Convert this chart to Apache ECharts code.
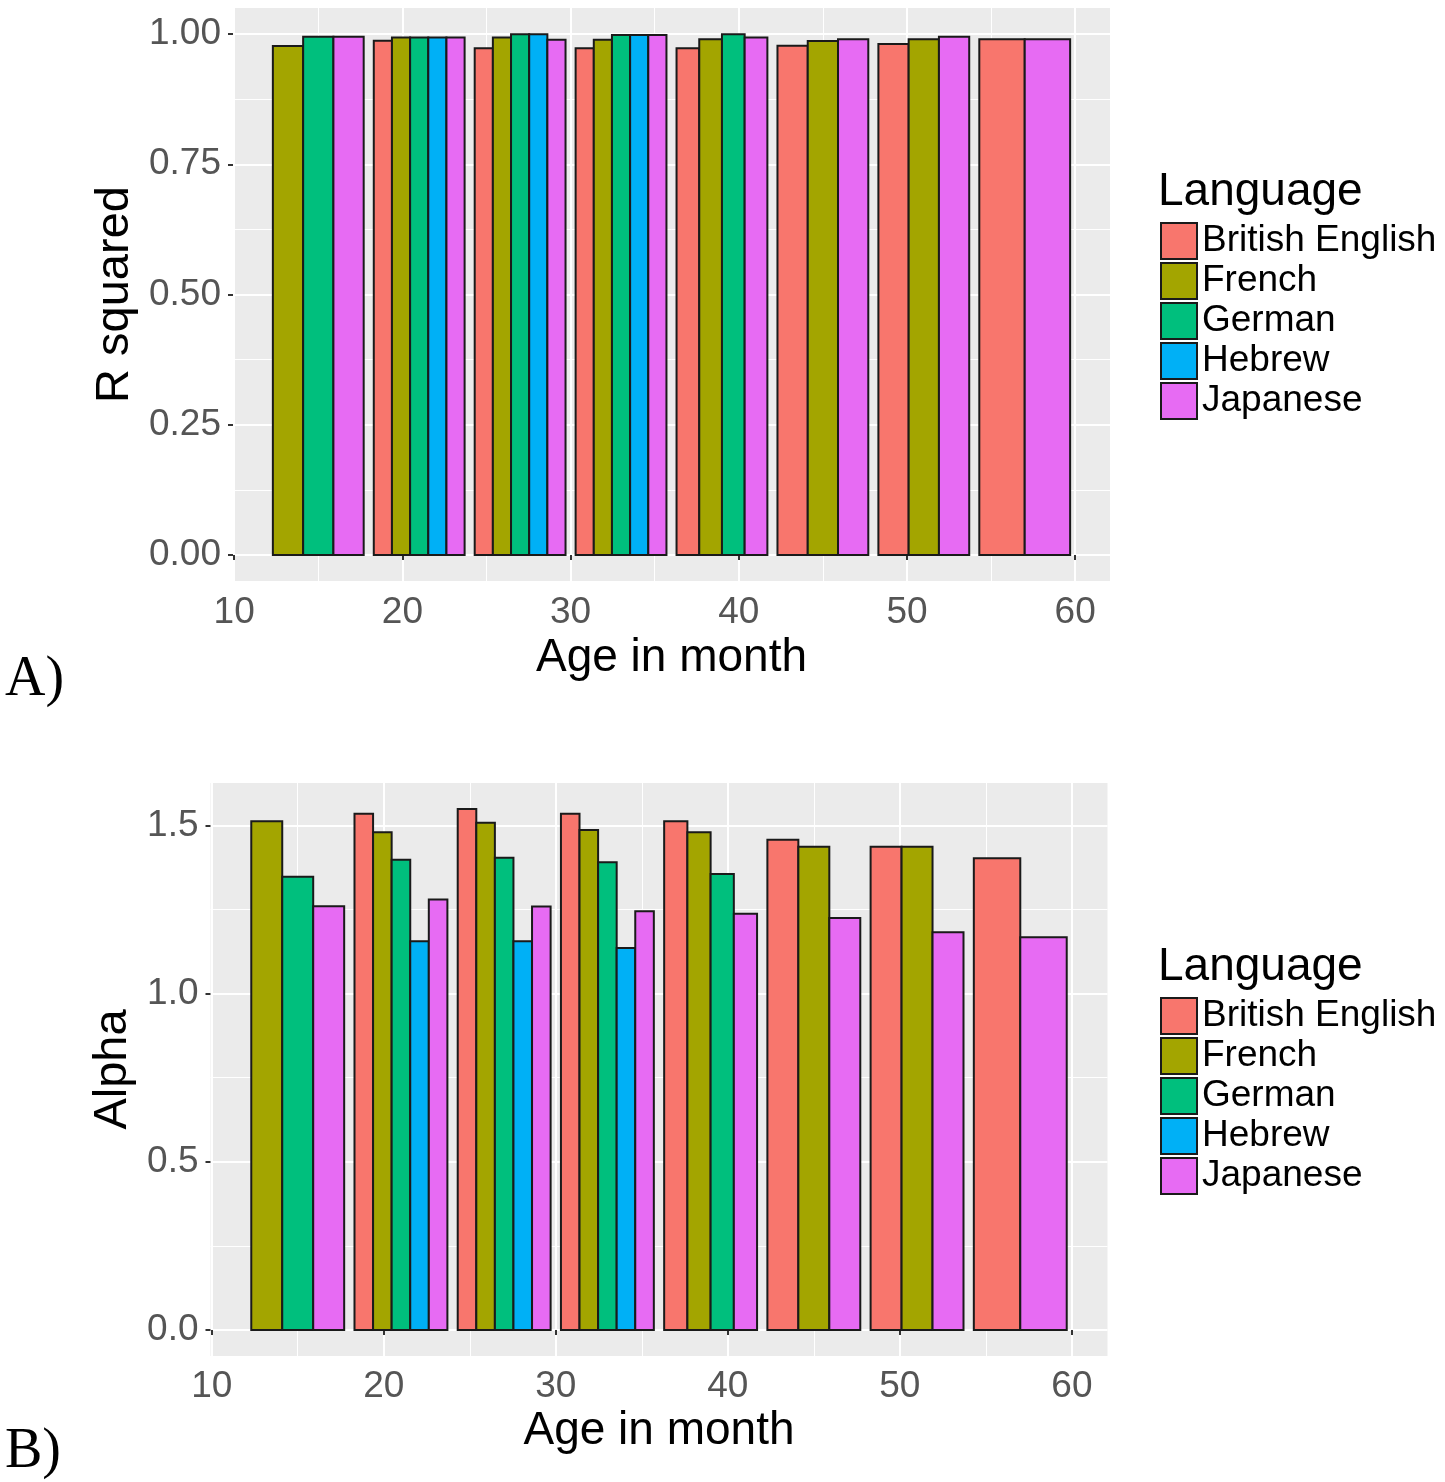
<!DOCTYPE html>
<html><head><meta charset="utf-8">
<script src="https://cdn.jsdelivr.net/npm/echarts@6/dist/echarts.min.js"></script>
<style>html,body{margin:0;padding:0;background:#fff}#chart{width:1445px;height:1482px}</style>
</head><body><div id="chart"></div>
<script>
// ---- data ----
const languages = ['British English', 'French', 'German', 'Hebrew', 'Japanese'];
const colors = ['#F8766D', '#A3A500', '#00BF7D', '#00B0F6', '#E76BF3'];
const ages = [15, 21, 27, 33, 39, 45, 51, 57];

// Panel A: R squared
const rsqBritish  = [null, 0.987, 0.9725, 0.9725, 0.9725, 0.9776, 0.981, 0.990];
const rsqFrench   = [0.977, 0.9935, 0.9935, 0.989, 0.990, 0.9866, 0.990, null];
const rsqGerman   = [0.995, 0.9935, 0.9995, 0.998, 0.9995, null, null, null];
const rsqHebrew   = [null, 0.9935, 0.9995, 0.998, null, null, null, null];
const rsqJapanese = [0.995, 0.9935, 0.989, 0.998, 0.9935, 0.990, 0.995, 0.990];

// Panel B: Alpha
const alphaBritish  = [null, 1.535, 1.549, 1.535, 1.513, 1.458, 1.437, 1.403];
const alphaFrench   = [1.513, 1.480, 1.508, 1.487, 1.480, 1.437, 1.437, null];
const alphaGerman   = [1.348, 1.398, 1.404, 1.391, 1.356, null, null, null];
const alphaHebrew   = [null, 1.156, 1.156, 1.136, null, null, null, null];
const alphaJapanese = [1.260, 1.280, 1.259, 1.245, 1.238, 1.225, 1.183, 1.168];

// tick labels
const xTicks = [10, 20, 30, 40, 50, 60];
const xMinor = [15, 25, 35, 45, 55];
const yTicksA = [0, 0.25, 0.5, 0.75, 1];
const yMinorA = [0.125, 0.375, 0.625, 0.875];
const yTicksB = [0, 0.5, 1, 1.5];
const yMinorB = [0.25, 0.75, 1.25];

const GROUP_W = 5.4; // dodge width (0.9 * 6 months)
const FONT = '"Liberation Sans", Arial, sans-serif';
const TICK_COLOR = '#555555';

const panelA = [rsqBritish, rsqFrench, rsqGerman, rsqHebrew, rsqJapanese];
const panelB = [alphaBritish, alphaFrench, alphaGerman, alphaHebrew, alphaJapanese];

function buildSeries(panel, gi) {
  return languages.map((name, li) => {
    const data = [];
    ages.forEach((a, i) => {
      const v = panel[li][i];
      if (v == null) return;
      const present = panel.map(s => s[i] != null);
      const n = present.filter(Boolean).length;
      const idx = present.slice(0, li).filter(Boolean).length;
      data.push([a, v, idx, n]);
    });
    return {
      type: 'custom', name, xAxisIndex: gi * 2, yAxisIndex: gi * 2,
      itemStyle: { color: colors[li] },
      encode: { x: 0, y: 1 },
      data,
      renderItem: function (params, api) {
        const age = api.value(0), val = api.value(1), idx = api.value(2), n = api.value(3);
        const w = GROUP_W / n;
        const x0 = age - GROUP_W / 2 + idx * w;
        const p0 = api.coord([x0, val]);
        const p1 = api.coord([x0 + w, 0]);
        return {
          type: 'rect',
          shape: { x: p0[0], y: p0[1], width: p1[0] - p0[0], height: p1[1] - p0[1] },
          style: { fill: api.visual('color'), stroke: '#1a1a1a', lineWidth: 2 }
        };
      }
    };
  });
}

function majorX(gi, name, nameGap, margin) {
  return {
    type: 'value', gridIndex: gi, min: 9.93, max: 62.07, position: 'bottom',
    name, nameLocation: 'middle', nameGap,
    nameTextStyle: { fontSize: 46, color: '#000', fontFamily: FONT },
    axisLine: { show: false },
    axisTick: { show: true, customValues: xTicks, length: 5, lineStyle: { color: '#333', width: 2 } },
    axisLabel: { customValues: xTicks, fontSize: 37, color: TICK_COLOR, fontFamily: FONT, margin },
    splitLine: { show: true, lineStyle: { color: '#fff', width: 2 } }
  };
}
function minorX(gi) {
  return {
    type: 'value', gridIndex: gi, min: 9.93, max: 62.07, position: 'top',
    axisLine: { show: false },
    axisTick: { show: false, customValues: xMinor },
    axisLabel: { show: false, customValues: xMinor },
    splitLine: { show: true, lineStyle: { color: '#fff', width: 1 } }
  };
}
function majorY(gi, min, max, ticks, name, nameGap, fmt) {
  return {
    type: 'value', gridIndex: gi, min, max, position: 'left',
    name, nameLocation: 'middle', nameGap, nameRotate: 90,
    nameTextStyle: { fontSize: 47, color: '#000', fontFamily: FONT },
    axisLine: { show: false },
    axisTick: { show: true, customValues: ticks, length: 5, lineStyle: { color: '#333', width: 2 } },
    axisLabel: { customValues: ticks, fontSize: 37, color: TICK_COLOR, fontFamily: FONT, margin: 12,
      formatter: v => v.toFixed(fmt) },
    splitLine: { show: true, lineStyle: { color: '#fff', width: 2 } }
  };
}
function minorY(gi, min, max, ticks) {
  return {
    type: 'value', gridIndex: gi, min, max, position: 'right',
    axisLine: { show: false },
    axisTick: { show: false, customValues: ticks },
    axisLabel: { show: false, customValues: ticks },
    splitLine: { show: true, lineStyle: { color: '#fff', width: 1 } }
  };
}

function legendFor(top) {
  return {
    data: languages, orient: 'vertical', left: 1160, top, padding: 0,
    itemWidth: 36, itemHeight: 36, itemGap: 2, icon: 'rect', selectedMode: false,
    itemStyle: { borderColor: '#1a1a1a', borderWidth: 2 },
    textStyle: { fontSize: 37, color: '#000', fontFamily: FONT }
  };
}

const chart = echarts.init(document.getElementById('chart'), null, { renderer: 'canvas' });
chart.setOption({
  animation: false,
  backgroundColor: '#fff',
  title: [
    { text: 'Language', left: 1158, top: 169, padding: 0,
      textStyle: { fontSize: 46, fontWeight: 'normal', color: '#000', fontFamily: FONT } },
    { text: 'Language', left: 1158, top: 944, padding: 0,
      textStyle: { fontSize: 46, fontWeight: 'normal', color: '#000', fontFamily: FONT } }
  ],
  legend: [legendFor(222), legendFor(997)],
  grid: [
    { left: 233, top: 8, width: 877, height: 573, show: true, backgroundColor: '#EBEBEB', borderWidth: 0, containLabel: false, outerBoundsMode: 'none' },
    { left: 210.5, top: 783, width: 897, height: 573, show: true, backgroundColor: '#EBEBEB', borderWidth: 0, containLabel: false, outerBoundsMode: 'none' }
  ],
  xAxis: [
    majorX(0, 'Age in month', 54, 13), minorX(0),
    majorX(1, 'Age in month', 52, 12), minorX(1)
  ],
  yAxis: [
    majorY(0, -0.05, 1.05, yTicksA, 'R squared', 92, 2), minorY(0, -0.05, 1.05, yMinorA),
    majorY(1, -0.07745, 1.62645, yTicksB, 'Alpha', 71, 1), minorY(1, -0.07745, 1.62645, yMinorB)
  ],
  graphic: [
    { type: 'text', left: 5, top: 652, style: { text: 'A)', font: '56px "Liberation Serif", "Times New Roman", serif', fill: '#000' } },
    { type: 'text', left: 5, top: 1424, style: { text: 'B)', font: '56px "Liberation Serif", "Times New Roman", serif', fill: '#000' } }
  ],
  series: [...buildSeries(panelA, 0), ...buildSeries(panelB, 1)]
});
</script></body></html>
